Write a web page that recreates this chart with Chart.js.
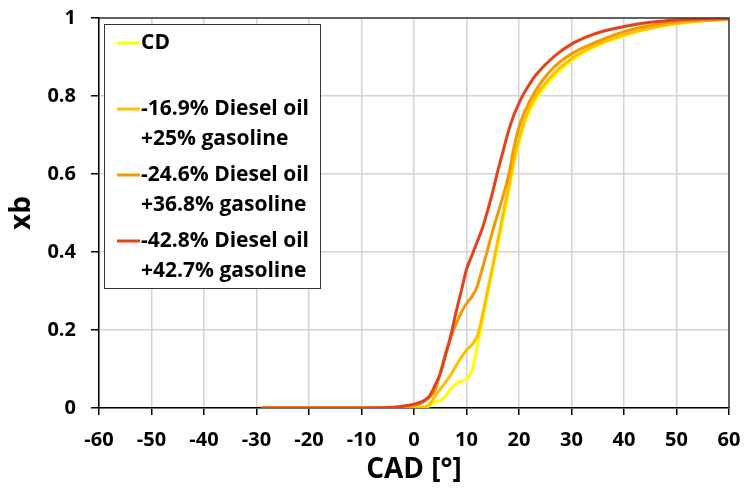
<!DOCTYPE html>
<html>
<head>
<meta charset="utf-8">
<script src="https://cdn.jsdelivr.net/npm/chart.js@4/dist/chart.umd.min.js"></script>
<style>
  html, body { margin: 0; padding: 0; background: #fff; }
  #wrap { width: 744px; height: 489px; position: relative; }
</style>
</head>
<body>
<div id="wrap"><canvas id="c" width="744" height="489"></canvas></div>
<script>
// Crank angle (CAD) and mass fraction burned (xb) for each fuel blend
const cdX = [-29, -20, -10, 0, 2, 3, 4, 5, 6, 7, 8, 9, 10, 11, 11.5, 12, 13, 14, 15, 16, 17, 18, 19, 20, 21, 22, 23, 24, 26, 28, 31, 35, 40, 45, 50, 55, 60];
const cdY = [0, 0, 0, 0, 0.001, 0.006, 0.015, 0.019, 0.03, 0.048, 0.062, 0.068, 0.074, 0.095, 0.12, 0.155, 0.22, 0.29, 0.355, 0.42, 0.485, 0.55, 0.625, 0.68, 0.727, 0.76, 0.785, 0.807, 0.84, 0.868, 0.9, 0.929, 0.954, 0.973, 0.985, 0.992, 0.997];

const mix169X = [-29, -20, -10, 0, 2, 3, 4, 5, 6, 7, 8, 9, 10, 11, 12, 12.5, 13, 14, 15, 16, 17, 18, 19, 20, 21, 22, 23, 24, 26, 28, 31, 35, 40, 45, 50, 55, 60];
const mix169Y = [0, 0, 0, 0, 0.002, 0.01, 0.03, 0.048, 0.066, 0.085, 0.108, 0.13, 0.148, 0.162, 0.183, 0.205, 0.235, 0.3, 0.365, 0.432, 0.5, 0.565, 0.635, 0.69, 0.735, 0.77, 0.795, 0.815, 0.848, 0.875, 0.905, 0.933, 0.957, 0.974, 0.986, 0.993, 0.997];

const mix246X = [-29, -20, -10, -5, -2, 0, 1, 2, 3, 4, 5, 6, 7, 8, 9, 10, 11, 12, 13, 14, 15, 16, 17, 18, 19, 20, 21, 23, 26, 30, 35, 40, 45, 50, 55, 60];
const mix246Y = [0, 0, 0, 0, 0.002, 0.006, 0.01, 0.017, 0.028, 0.045, 0.09, 0.14, 0.18, 0.215, 0.245, 0.268, 0.285, 0.31, 0.357, 0.405, 0.455, 0.5, 0.545, 0.595, 0.665, 0.72, 0.757, 0.81, 0.865, 0.908, 0.94, 0.965, 0.981, 0.991, 0.995, 0.997];

const mix428X = [-29, -20, -10, -5, -3, -1, 0, 1, 2, 3, 4, 5, 6, 7, 8, 9, 10, 11, 12, 13, 14, 15, 16, 17, 18, 19, 20, 21, 22, 23, 25, 27, 30, 33, 36, 40, 45, 50, 55, 60];
const mix428Y = [0, 0, 0, 0.001, 0.003, 0.007, 0.01, 0.014, 0.02, 0.032, 0.058, 0.088, 0.135, 0.185, 0.245, 0.3, 0.355, 0.39, 0.425, 0.46, 0.505, 0.555, 0.61, 0.66, 0.71, 0.75, 0.782, 0.808, 0.83, 0.85, 0.88, 0.905, 0.933, 0.952, 0.966, 0.978, 0.989, 0.995, 0.998, 0.999];

const seriesNames = [
  ['CD'],
  ['-16.9% Diesel oil', '+25% gasoline'],
  ['-24.6% Diesel oil', '+36.8% gasoline'],
  ['-42.8% Diesel oil', '+42.7% gasoline']
];
const seriesColors = ['#FFFF00', '#FFC000', '#F29B00', '#E4421C'];

const xTicks = [-60, -50, -40, -30, -20, -10, 0, 10, 20, 30, 40, 50, 60];
const xTickLabels = ['-60', '-50', '-40', '-30', '-20', '-10', '0', '10', '20', '30', '40', '50', '60'];
const yTicks = [0, 0.2, 0.4, 0.6, 0.8, 1];
const yTickLabels = ['0', '0.2', '0.4', '0.6', '0.8', '1'];

const FONT = '"Open Sans", Lato, sans-serif';

function pts(xs, ys) { return xs.map((x, i) => ({ x: x, y: ys[i] })); }

const seriesData = [pts(cdX, cdY), pts(mix169X, mix169Y), pts(mix246X, mix246Y), pts(mix428X, mix428Y)];

const datasets = seriesData.map((d, i) => ({
  label: seriesNames[i].join(' '),
  data: d,
  borderColor: seriesColors[i],
  backgroundColor: seriesColors[i],
  borderWidth: 3,
  pointRadius: 0,
  showLine: true,
  fill: false,
  cubicInterpolationMode: 'monotone',
  order: 3 - i
}));

// Frame around the plot and the boxed legend in its upper-left corner
const framePlugin = {
  id: 'frameAndLegend',
  afterDatasetsDraw(chart) {
    const ctx = chart.ctx;
    const a = chart.chartArea;
    ctx.save();
    ctx.strokeStyle = '#3a3a3a';
    ctx.lineWidth = 1.5;
    ctx.beginPath();
    ctx.moveTo(a.left, a.top);
    ctx.lineTo(a.right, a.top);
    ctx.lineTo(a.right, a.bottom);
    ctx.stroke();

    // legend box
    const bx = 104, by = 24, bw = 216, bh = 264;
    ctx.fillStyle = '#fff';
    ctx.fillRect(bx, by, bw, bh);
    ctx.strokeStyle = '#333';
    ctx.lineWidth = 1;
    ctx.strokeRect(bx + 0.5, by + 0.5, bw, bh);

    const rows = [43, 109, 175, 241];
    ctx.font = 'bold 21px ' + FONT;
    ctx.textBaseline = 'middle';
    ctx.textAlign = 'left';
    seriesNames.forEach((lines, i) => {
      const y = rows[i];
      ctx.strokeStyle = seriesColors[i];
      ctx.lineWidth = 3;
      ctx.beginPath();
      ctx.moveTo(117, y);
      ctx.lineTo(140, y);
      ctx.stroke();
      ctx.fillStyle = '#000';
      lines.forEach((t, k) => ctx.fillText(t, 141, y + k * 30));
    });
    ctx.restore();
  }
};

new Chart(document.getElementById('c'), {
  type: 'scatter',
  data: { datasets: datasets },
  plugins: [framePlugin],
  options: {
    responsive: false,
    animation: false,
    layout: { padding: { top: 18, right: 15, left: 0, bottom: 0 } },
    plugins: { legend: { display: false }, tooltip: { enabled: false } },
    scales: {
      x: {
        type: 'linear',
        min: -60, max: 60,
        afterBuildTicks(s) { s.ticks = xTicks.map(v => ({ value: v })); },
        afterFit(s) { s.height = 81; s.paddingLeft = 0; s.paddingRight = 0; },
        ticks: {
          callback: (v) => xTickLabels[xTicks.indexOf(v)],
          color: '#000',
          font: { family: FONT, size: 20, weight: 'bold' },
          padding: 13,
          maxRotation: 0
        },
        grid: { color: '#d4d4d4', lineWidth: 1.5, tickColor: '#000', tickLength: 7, tickWidth: 1.5 },
        border: { color: '#000', width: 1.5 },
        title: {
          display: true, text: 'CAD [°]', color: '#000',
          font: { family: FONT, size: 28, weight: 'bold' },
          padding: { top: 0, bottom: 2 }
        }
      },
      y: {
        type: 'linear',
        min: 0, max: 1,
        afterBuildTicks(s) { s.ticks = yTicks.map(v => ({ value: v })); },
        afterFit(s) { s.width = 99; s.paddingTop = 0; s.paddingBottom = 0; },
        ticks: {
          callback: (v) => yTickLabels[yTicks.indexOf(v)],
          color: '#000',
          font: { family: FONT, size: 20, weight: 'bold' },
          padding: 15
        },
        grid: { color: '#d4d4d4', lineWidth: 1.5, tickColor: '#000', tickLength: 8, tickWidth: 1.5 },
        border: { color: '#000', width: 1.5 },
        title: {
          display: true, text: 'xb', color: '#000',
          font: { family: FONT, size: 28, weight: 'bold' },
          padding: { top: 5, bottom: 0 }
        }
      }
    }
  }
});
</script>
</body>
</html>
